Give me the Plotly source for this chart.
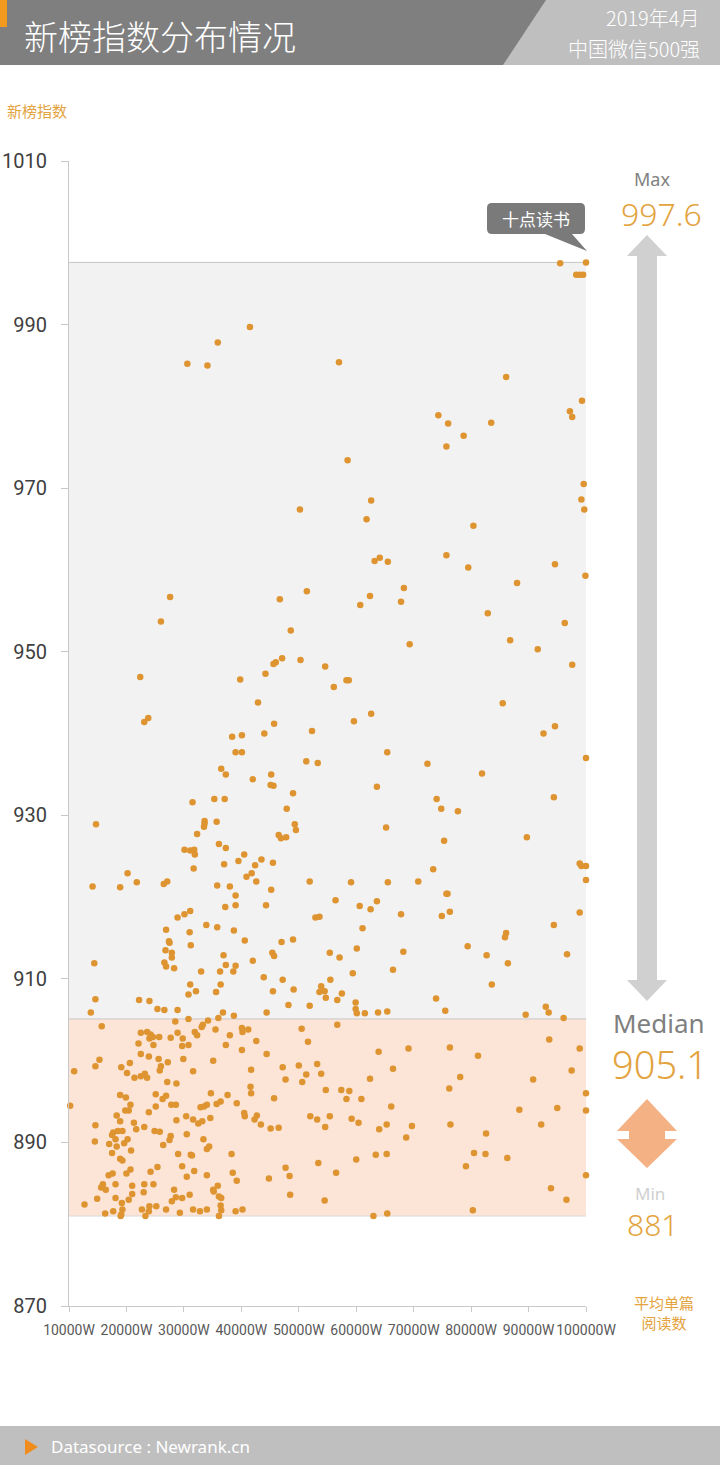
import plotly.graph_objects as go

# ---------------- data (avg reads per article, unit: 1000W ; 新榜指数) ----------------
READS_K = [
 95.5,100,98.3,98.9,99.5,41.5,35.9,30.6,34.1,57.0,86.1,99.3,97.2,97.6,74.3,76.0,78.7,83.5,75.7,58.5,
 99.6,99.2,99.7,62.6,50.2,61.8,80.4,75.7,79.5,63.2,64.1,65.5,94.6,99.9,88.0,68.3,62.4,67.8,60.7,51.4,
 46.7,27.6,26.0,82.9,96.3,
 48.6,22.4,23.1,23.8,39.8,44.2,45.6,46.0,47.1,50.3,54.6,42.9,45.7,52.3,38.4,40.1,44.0,39.0,40.1,51.3,
 53.3,36.5,37.3,42.0,45.2,45.1,45.6,49.0,31.5,35.3,37.1,47.9,14.7,33.6,33.6,33.5,35.7,49.3,49.5,46.5,
 46.9,47.8,32.3,36.1,37.3,30.1,31.1,31.8,31.9,40.5,39.5,43.5,45.5,37.0,42.4,31.7,20.2,21.8,14.1,18.9,
 26.5,27.1,40.9,41.8,42.6,35.8,38.0,39.0,45.2,51.9,37.2,39.0,44.3,28.9,30.1,31.1,52.9,53.6,
 56.1,58.3,58.7,69.3,86.8,91.6,97.6,62.6,59.6,85.5,92.6,94.6,65.4,72.4,81.9,100,63.6,74.0,74.8,77.7,
 94.4,65.2,75.3,89.7,73.4,59.1,65.5,70.8,56.4,60.6,62.5,63.6,67.8,74.9,76.3,75.7,75.9,98.9,99.2,100,
 100,98.9,
 33.9,35.8,38.7,26.9,31.0,27.4,27.5,31.2,26.8,27.9,27.9,36.9,26.6,26.9,28.3,37.3,39.0,14.4,33.0,36.3,
 38.6,31.1,32.1,30.8,36.4,35.6,14.6,22.2,24.0,13.8,25.4,26.6,28.9,36.8,38.7,28.5,30.8,36.0,34.2,
 15.7,33.1,33.3,31.9,32.3,35.5,38.0,22.5,23.6,24.2,24.0,24.6,25.7,28.9,27.7,29.8,22.1,24.7,29.7,30.8,
 37.3,22.5,23.9,25.6,29.9,35.1,15.3,14.6,10.9,19.1,20.6,26.0,25.8,27.2,31.6,20.1,21.4,22.5,23.2,23.6,
 27.1,28.7,18.9,19.9,20.7,25.1,26.3,26.9,27.8,28.6,25.1,10.2,34.7,37.6,32.9,33.5,34.0,35.7,36.4,39.2,
 19.8,20.4,18.3,18.9,23.9,28.7,30.4,31.6,32.5,33.2,34.6,14.6,21.3,23.1,21.7,17.7,18.5,19.3,17.5,24.9,
 25.8,27.7,27.5,26.4,30.5,18.1,18.3,17.0,19.6,20.2,14.5,33.4,34.0,34.4,20.8,17.5,18.9,19.3,29.0,31.2,
 31.4,38.3,29.7,25.4,24.2,31.8,34.0,20.7,20.0,16.9,17.6,30.5,38.5,39.2,15.9,15.6,16.4,18.1,21.0,23.1,
 24.7,35.9,35.1,35.2,23.0,21.0,28.3,31.0,14.9,18.1,20.4,28.6,27.9,29.7,36.1,36.5,12.7,19.2,16.3,17.7,
 19.3,19.1,19.0,22.7,24.0,25.2,23.9,23.3,26.9,29.3,31.6,32.8,34.0,36.4,36.5,36.1,39.0,
 40.6,47.0,49.0,61.1,45.4,45.7,42.0,55.4,57.1,60.1,68.2,43.9,47.2,49.1,45.5,53.9,53.6,54.5,54.7,55.5,
 57.5,56.7,59.4,66.4,48.2,51.9,44.4,59.9,59.9,60.1,61.5,63.8,65.4,
 40.1,40.2,41.2,50.5,56.7,42.6,40.1,51.6,44.4,63.9,69.1,41.7,47.2,50.0,53.2,51.3,53.9,47.7,50.6,66.4,
 62.4,41.6,41.7,54.7,57.4,58.8,58.3,60.9,45.7,66.1,40.5,40.6,42.7,42.3,43.4,45.1,46.5,52.0,53.2,55.4,
 54.6,59.2,60.4,64.0,65.3,68.7,53.4,60.0,63.4,65.3,47.7,48.4,44.8,56.5,48.5,54.5,40.2,63.0,65.4,
 94.4,86.1,85.9,79.4,82.7,86.4,96.7,83.6,73.9,75.5,93.0,93.5,89.5,96.1,
 76.3,81.2,93.6,98.9,97.5,78.1,76.2,90.8,100,100,88.4,95.0,92.2,69.7,76.4,82.6,80.5,82.5,79.1,86.3,
 100,93.9,96.6,80.3,
]
INDEX = [
 997.5,997.6,996.1,996.1,996.1,989.7,987.8,985.2,985.0,985.4,983.6,980.7,979.4,978.7,978.9,977.9,976.4,978.0,975.1,973.4,
 970.5,968.6,967.4,968.5,967.4,966.2,965.4,961.8,960.3,961.1,961.5,961.0,960.7,959.3,958.4,957.8,956.8,956.1,955.7,957.4,
 956.4,956.7,953.7,954.7,953.5,
 952.6,946.9,941.4,941.9,946.6,947.3,948.5,948.7,949.2,949.0,948.2,943.8,941.2,940.3,939.6,939.8,940.0,937.7,937.7,936.6,
 936.4,935.7,935.0,934.4,935.0,933.7,933.6,932.7,931.6,932.0,932.0,930.8,928.9,929.3,929.0,928.6,929.2,928.9,928.2,927.6,
 927.2,927.3,927.7,926.5,926.0,925.8,925.7,925.8,925.2,925.2,924.4,924.6,924.2,924.0,923.9,923.5,922.9,921.8,921.3,921.2,
 921.6,921.9,922.5,922.9,921.9,921.4,921.3,920.2,920.9,921.9,918.8,919.0,919.0,917.5,917.9,918.3,917.5,917.6,
 945.7,946.5,946.5,950.9,951.4,950.3,948.4,942.4,941.5,943.7,940.0,940.9,937.7,936.3,935.1,937.0,933.5,932.0,930.8,930.5,
 932.2,928.5,926.9,927.3,923.4,921.8,921.8,921.9,919.6,918.9,918.5,919.5,917.9,917.7,918.2,920.4,920.4,924.1,923.8,923.8,
 922.1,918.1,
 916.6,916.3,915.9,916.0,915.7,914.6,914.4,914.1,913.5,913.2,912.6,912.9,912.0,911.5,911.3,911.7,911.6,911.9,910.9,910.9,
 910.9,909.3,908.5,908.1,909.3,908.4,907.5,907.4,907.3,905.9,906.3,906.2,906.2,905.9,905.5,904.8,905.1,905.2,904.9,
 904.2,904.1,904.4,903.5,903.1,903.8,903.1,903.4,903.5,903.2,902.7,902.9,902.9,903.4,902.8,902.7,902.1,901.9,901.8,901.9,
 901.9,900.8,900.5,900.2,900.2,900.0,900.1,899.3,898.7,899.2,899.7,899.3,898.8,899.8,898.7,898.5,897.9,898.1,898.4,897.9,
 897.4,897.2,895.8,895.5,894.6,895.9,895.3,895.7,894.6,894.6,894.4,894.5,896.0,895.8,894.3,894.4,894.6,894.7,895.0,894.8,
 893.9,893.9,893.3,892.6,893.7,892.7,893.2,892.8,892.3,892.6,893.0,892.1,892.4,891.9,891.6,891.2,891.4,891.4,890.9,891.4,
 891.3,890.8,890.3,889.7,891.0,890.4,889.5,889.8,889.9,890.4,890.1,890.4,889.2,889.5,889.0,888.7,888.0,887.8,888.6,888.5,
 888.4,888.6,887.1,887.0,886.4,886.5,886.0,886.7,886.2,886.0,886.2,885.8,886.3,885.3,884.9,884.5,884.2,884.9,884.7,884.9,
 884.9,884.7,884.2,884.0,883.9,883.7,884.2,883.6,883.1,883.2,883.0,883.3,882.8,883.2,883.4,883.2,882.4,882.6,881.3,881.6,
 881.8,881.2,881.0,881.8,882.2,882.2,881.6,881.0,881.8,881.4,881.8,881.6,881.8,882.3,881.7,881.0,881.6,
 914.7,914.5,914.8,916.2,913.2,912.8,912.2,913.2,912.6,913.7,913.3,910.2,909.9,908.7,908.5,909.1,908.4,908.5,907.7,909.9,
 908.2,907.4,910.7,911.1,906.8,906.7,905.9,907.1,906.3,905.8,905.8,905.9,906.0,
 904.0,903.5,903.8,903.9,904.4,902.4,901.3,902.3,900.8,901.1,901.5,898.9,899.2,899.4,899.6,898.3,898.4,897.7,897.4,899.0,
 897.8,896.8,896.0,896.4,896.4,896.3,895.3,895.3,895.4,894.4,893.6,893.2,893.3,892.8,892.2,891.7,891.8,893.2,892.8,893.2,
 891.9,892.9,892.4,891.6,892.2,890.6,887.5,887.9,888.5,888.6,886.9,885.9,885.6,886.3,883.6,882.9,881.8,881.0,881.3,
 916.6,915.6,915.1,914.0,912.9,911.9,913.0,909.3,907.6,906.1,906.6,905.9,905.6,905.2,
 901.6,900.6,902.6,901.5,898.8,898.0,896.6,897.7,896.0,893.9,894.0,894.2,892.2,892.0,892.2,891.1,888.7,888.6,887.1,888.1,
 886.0,884.4,883.0,881.7,
]

X_TICKS = [10, 20, 30, 40, 50, 60, 70, 80, 90, 100]
X_TICK_LABELS = ["10000W", "20000W", "30000W", "40000W", "50000W",
                 "60000W", "70000W", "80000W", "90000W", "100000W"]
Y_TICKS = [870, 890, 910, 930, 950, 970, 990, 1010]

STAT_MAX = 997.6
STAT_MEDIAN = 905.1
STAT_MIN = 881
MAX_NAME = "十点读书"
TITLE = "新榜指数分布情况"

# ---------------- layout helpers ----------------
W, H = 720, 1465
L, R, T, B = 69, 586, 161, 1306  # plot area in pixels


def px(x):
    return (x - L) / (R - L)


def py(y):
    return (B - y) / (B - T)


def path(points):
    return "M " + " L ".join(f"{px(a):.5f},{py(b):.5f}" for a, b in points) + " Z"


GOLD = "#E3A33E"
TICKFONT = "Roboto, Noto Sans, sans-serif"
CJK = "Noto Sans CJK SC, Noto Sans, sans-serif"
LATIN = "Noto Sans, Open Sans, sans-serif"

fig = go.Figure()
fig.add_trace(go.Scatter(
    x=READS_K, y=INDEX, mode="markers",
    marker=dict(size=6.5, color="#DE9430", line=dict(width=0)),
    cliponaxis=False, hoverinfo="x+y", showlegend=False,
))

shapes = []
shapes.append(dict(type="rect", xref="x", yref="y", x0=10, x1=100, y0=STAT_MEDIAN, y1=STAT_MAX,
                   fillcolor="#F2F2F2", line=dict(width=0), layer="below"))
shapes.append(dict(type="rect", xref="x", yref="y", x0=10, x1=100, y0=STAT_MIN, y1=STAT_MEDIAN,
                   fillcolor="#FCE4D6", line=dict(width=0), layer="below"))
for v, c in [(STAT_MAX, "#C4C4C4"), (STAT_MEDIAN, "#C8C8C8"), (STAT_MIN, "#D9D9D9")]:
    shapes.append(dict(type="line", xref="x", yref="y", x0=10, x1=100, y0=v, y1=v,
                       line=dict(color=c, width=1), layer="below"))

# title bar
shapes.append(dict(type="rect", xref="paper", yref="paper", x0=px(0), x1=px(720), y0=py(65), y1=py(0),
                   fillcolor="#7F7F7F", line=dict(width=0)))
shapes.append(dict(type="path", xref="paper", yref="paper",
                   path=path([(546, 0), (720, 0), (720, 65), (503, 65)]),
                   fillcolor="#BFBFBF", line=dict(width=0)))
shapes.append(dict(type="rect", xref="paper", yref="paper", x0=px(0), x1=px(7), y0=py(27), y1=py(0),
                   fillcolor="#F39A1E", line=dict(width=0)))
# footer
shapes.append(dict(type="rect", xref="paper", yref="paper", x0=px(0), x1=px(720), y0=py(1465), y1=py(1426),
                   fillcolor="#BFBFBF", line=dict(width=0)))
shapes.append(dict(type="path", xref="paper", yref="paper",
                   path=path([(25, 1439), (38, 1447), (25, 1455)]),
                   fillcolor="#F08C1C", line=dict(width=0)))
# grey double arrow (max -> median)
shapes.append(dict(type="path", xref="paper", yref="paper",
                   path=path([(647, 235), (667, 256), (657, 256), (657, 980), (667, 980), (647, 1001),
                              (627, 980), (637, 980), (637, 256), (627, 256)]),
                   fillcolor="#D0D0D0", line=dict(width=0)))
# orange double arrow (median <-> min)
shapes.append(dict(type="path", xref="paper", yref="paper",
                   path=path([(647, 1099), (677, 1131), (665, 1131), (665, 1139), (677, 1139), (647, 1168),
                              (617, 1139), (629, 1139), (629, 1131), (617, 1131)]),
                   fillcolor="#F4B183", line=dict(width=0)))
# callout bubble
r = 5
bx0, bx1, by0, by1 = 487, 585, 203, 234
bub = (f"M {px(bx0 + r):.5f},{py(by0):.5f} L {px(bx1 - r):.5f},{py(by0):.5f} "
       f"Q {px(bx1):.5f},{py(by0):.5f} {px(bx1):.5f},{py(by0 + r):.5f} "
       f"L {px(bx1):.5f},{py(by1 - r):.5f} Q {px(bx1):.5f},{py(by1):.5f} {px(bx1 - r):.5f},{py(by1):.5f} "
       f"L {px(572):.5f},{py(by1):.5f} L {px(587):.5f},{py(251):.5f} L {px(545):.5f},{py(by1):.5f} "
       f"L {px(bx0 + r):.5f},{py(by1):.5f} Q {px(bx0):.5f},{py(by1):.5f} {px(bx0):.5f},{py(by1 - r):.5f} "
       f"L {px(bx0):.5f},{py(by0 + r):.5f} Q {px(bx0):.5f},{py(by0):.5f} {px(bx0 + r):.5f},{py(by0):.5f} Z")
shapes.append(dict(type="path", xref="paper", yref="paper", path=bub,
                   fillcolor="#7A7A7A", line=dict(width=0)))


def ann(text, x, y, size, color, family, xanchor="center", weight=None):
    f = dict(size=size, color=color, family=family)
    if weight:
        f["weight"] = weight
    return dict(text=text, xref="paper", yref="paper", x=px(x), y=py(y), xanchor=xanchor,
                yanchor="middle", showarrow=False, font=f)


annotations = [
    ann(TITLE, 22, 35, 34, "white", CJK, "left", 300),
    ann("2019年4月", 702, 18, 20, "white", CJK, "right", 300),
    ann("中国微信500强", 702, 48, 20, "white", CJK, "right", 300),
    ann("新榜指数", 5, 110, 15, GOLD, CJK, "left"),
    ann("Max", 652, 179, 18, "#7F7F7F", LATIN),
    ann(f"{STAT_MAX}", 661, 213, 32, GOLD, LATIN, weight=300),
    ann(MAX_NAME, 536, 218, 17, "white", CJK),
    ann("Median", 659, 1023, 26, "#7F7F7F", LATIN),
    ann(f"{STAT_MEDIAN}", 660, 1064, 38, GOLD, LATIN, weight=300),
    ann("Min", 650, 1193, 17, "#D0D0D0", LATIN),
    ann(f"{STAT_MIN}", 652, 1224, 30, GOLD, LATIN, weight=300),
    ann("平均单篇<br>阅读数", 664, 1312, 15, GOLD, CJK),
    ann("Datasource : Newrank.cn", 49, 1446, 17, "white", LATIN, "left"),
]

fig.update_layout(
    width=W, height=H,
    margin=dict(l=L, r=W - R, t=T, b=H - B, pad=0, autoexpand=False),
    paper_bgcolor="white", plot_bgcolor="white",
    shapes=shapes, annotations=annotations,
    showlegend=False,
    xaxis=dict(range=[10, 100], tickvals=X_TICKS, ticktext=X_TICK_LABELS, tickangle=0,
               showline=True, linecolor="#C8C8C8", linewidth=1, automargin=False,
               ticks="outside", ticklen=5, tickcolor="#C8C8C8",
               tickfont=dict(size=14, color="#595959", family=TICKFONT),
               ticklabelstandoff=6, showgrid=False, zeroline=False, fixedrange=True),
    yaxis=dict(range=[870, 1010], tickvals=Y_TICKS, automargin=False,
               showline=True, linecolor="#C8C8C8", linewidth=1,
               ticks="outside", ticklen=7, tickcolor="#C8C8C8",
               tickfont=dict(size=20, color="#404040", family=TICKFONT),
               ticklabelstandoff=10, showgrid=False, zeroline=False, fixedrange=True),
)

fig.write_html("out.html", config={"displayModeBar": False},
               post_script="document.body.style.margin='0';document.body.style.overflow='hidden';")
